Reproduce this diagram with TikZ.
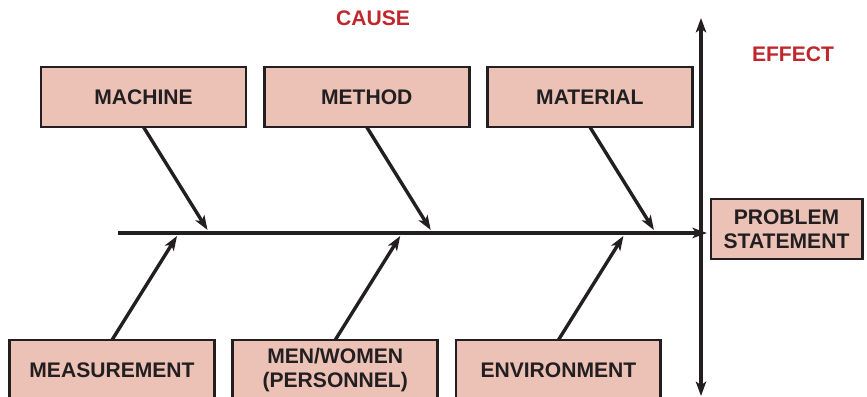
\documentclass[tikz,border=0pt]{standalone}
\usepackage{fontspec}
\setmainfont{Liberation Sans}
\usepackage{xcolor}
\usepackage{tikz}
\usetikzlibrary{
  positioning,
  arrows.meta
}
\definecolor{boxpink}{RGB}{236,194,182}
\definecolor{causered}{RGB}{192,39,45}
\definecolor{inkdark}{RGB}{35,31,32}

\begin{document}
\begin{tikzpicture}[
  x=0.25mm, y=-0.25mm,
  node distance=4.6mm,
  cause/.style={draw=inkdark, line width=0.7mm, fill=boxpink,
                minimum width=51.2mm, minimum height=15mm, inner sep=0pt,
                outer sep=0pt, align=center, text=inkdark,
                font=\fontsize{15}{17}\selectfont\bfseries},
  heading/.style={text=causered, font=\fontsize{15}{17}\selectfont\bfseries},
  bone/.style={-{Stealth[length=3.6mm, width=2.6mm, inset=0.9mm]},
               line width=0.85mm, inkdark},
  twoway/.style={{Stealth[length=3.6mm, width=2.6mm, inset=0.9mm]}-{Stealth[length=3.6mm, width=2.6mm, inset=0.9mm]},
               line width=0.85mm, inkdark}
]
  \useasboundingbox (0,0) rectangle (867,397);
  \clip (0,0) rectangle (867,397);

  \node[heading] (cause) at (373,18) {CAUSE};
  \node[heading] (effect) at (793,54) {EFFECT};

  % top row
  \node[cause] (machine) at (143.5,97) {MACHINE};
  \node[cause, right=of machine] (method) {METHOD};
  \node[cause, right=of method] (material) {MATERIAL};

  % bottom row
  \node[cause] (measure) at (112,370) {MEASUREMENT};
  \node[cause, right=of measure] (people) {MEN/WOMEN\\(PERSONNEL)};
  \node[cause, right=of people] (environ) {ENVIRONMENT};

  \node[cause, minimum width=37.8mm] (problem) at (786.5,229)
    {PROBLEM\\STATEMENT};

  % spine and effect line
  \coordinate (spine) at (118,233);
  \coordinate (effTop) at (701,18);
  \coordinate (effBot) at (701,396);
  \draw[twoway] (effTop) -- (effBot);
  \draw[bone] (spine) -- ([xshift=-1mm]problem.west |- spine);

  % bones
  \draw[bone] (machine.south) -- ++(64,103);
  \draw[bone] (method.south) -- ++(64,103);
  \draw[bone] (material.south) -- ++(64,103);
  \draw[bone] (measure.north) -- ++(65,-104);
  \draw[bone] (people.north) -- ++(65,-104);
  \draw[bone] (environ.north) -- ++(65,-104);
\end{tikzpicture}
\end{document}
